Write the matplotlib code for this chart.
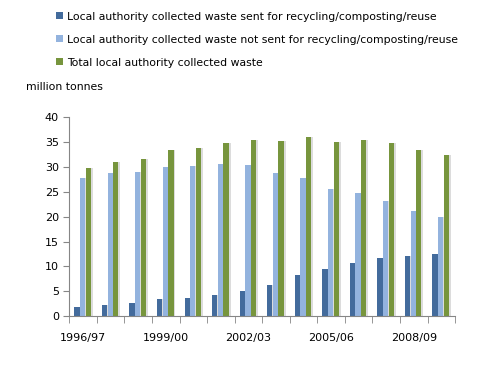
import matplotlib.pyplot as plt
import numpy as np

# Data (million tonnes)
years = ['1996/97', '1997/98', '1998/99', '1999/00', '2000/01', '2001/02', '2002/03',
         '2003/04', '2004/05', '2005/06', '2006/07', '2007/08', '2008/09', '2009/10']
recycled = [1.8, 2.2, 2.7, 3.4, 3.7, 4.2, 5.0, 6.3, 8.3, 9.5, 10.7, 11.7, 12.1, 12.5]
not_recycled = [27.8, 28.8, 29.0, 30.0, 30.2, 30.6, 30.4, 28.8, 27.8, 25.6, 24.8, 23.2, 21.2, 20.0]
total = [29.8, 31.0, 31.6, 33.4, 33.9, 34.9, 35.4, 35.2, 36.1, 35.1, 35.4, 34.9, 33.4, 32.5]
labels = ['Local authority collected waste sent for recycling/composting/reuse',
          'Local authority collected waste not sent for recycling/composting/reuse',
          'Total local authority collected waste']
colors = ['#436B9C', '#93B3DE', '#77953D']

fig = plt.figure(figsize=(4.99, 3.67), dpi=100)
ax = fig.add_axes([0.139, 0.139, 0.773, 0.541])

x = np.arange(len(years))
w = 0.19
handles = []
for i, (vals, col, lab) in enumerate(zip([recycled, not_recycled, total], colors, labels)):
    pos = x + (i - 1) * 0.205 - 0.02
    # soft shadow to the right of each bar
    ax.bar(pos + 0.07, vals, w, color='#dcdcdc', zorder=1)
    b = ax.bar(pos, vals, w, color=col, zorder=2, label=lab)
    handles.append(b)

ax.set_xlim(-0.5, len(years) - 0.5)
ax.set_ylim(0, 40)
ax.set_yticks(range(0, 41, 5))
ax.set_xticks(x[::3])
ax.set_xticklabels(years[::3])
ax.set_xticks(np.arange(-0.5, len(years)), minor=True)
ax.tick_params(axis='x', which='major', length=0, pad=12, labelsize=8)
ax.tick_params(axis='x', which='minor', length=5, color='#868686')
ax.tick_params(axis='y', length=4, color='#868686', labelsize=8)

for s in ['top', 'right']:
    ax.spines[s].set_visible(False)
for s in ['left', 'bottom']:
    ax.spines[s].set_color('#868686')

fig.text(0.052, 0.763, 'million tonnes', fontsize=7.8, va='center')

fig.legend(handles=handles, loc='upper left', bbox_to_anchor=(0.093, 0.995),
           frameon=False, fontsize=7.8, handlelength=0.6, handleheight=0.6,
           handletextpad=0.4, labelspacing=1.2)

plt.savefig('out.png', dpi=100)
